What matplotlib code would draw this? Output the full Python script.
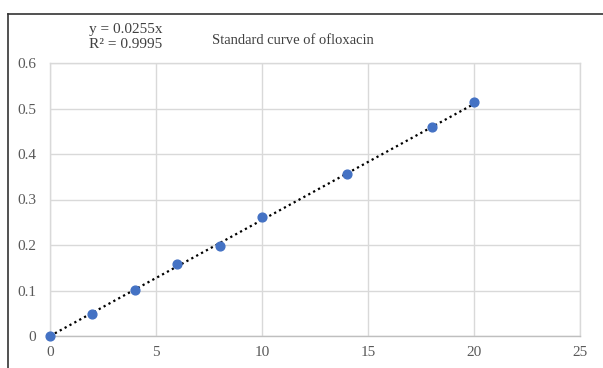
import numpy as np
import matplotlib
matplotlib.use("Agg")
import matplotlib.pyplot as plt
from matplotlib.lines import Line2D

# concentration vs absorbance
conc = [0, 2, 4, 6, 8, 10, 14, 18, 20]
absorb = [0, 0.048, 0.101, 0.158, 0.198, 0.262, 0.356, 0.459, 0.514]
slope = 0.0255
r2 = 0.9995
x_ticks = [0, 5, 10, 15, 20, 25]
y_ticks = [0, 0.1, 0.2, 0.3, 0.4, 0.5, 0.6]

plt.rcParams['font.family'] = ['Liberation Serif', 'DejaVu Serif']

fig = plt.figure(figsize=(6.03, 3.68), dpi=100)
W, H = 603, 368
ax = fig.add_axes([50 / W, (H - 336) / H, 530 / W, 273 / H])

grid_c = '#d9d9d9'
ax.set_xlim(0, 25)
ax.set_ylim(0, 0.6)
ax.set_xticks(x_ticks)
ax.set_yticks(y_ticks)
ax.set_xticklabels([str(t) for t in x_ticks])
ax.set_yticklabels(['0'] + [f'{t:.1f}' for t in y_ticks[1:]])
ax.grid(True, color=grid_c, linewidth=1)
ax.set_axisbelow(True)
for s in ax.spines.values():
    s.set_color(grid_c)
    s.set_linewidth(1)
ax.spines['bottom'].set_color('#bfbfbf')
ax.tick_params(length=0, labelsize=11, labelcolor='#595959')
ax.tick_params(axis='y', pad=10)
ax.tick_params(axis='x', pad=7)

# trendline through origin
xt = np.array([conc[0], conc[-1]])
ax.plot(xt, slope * xt, color='black', linestyle=(0, (1, 1.5)), linewidth=1.6, zorder=2)
ax.scatter(conc, absorb, s=40, color='#4472C4', zorder=3, clip_on=False)

fig.text(126 / W, 1 - 29 / H, f'y = {slope}x', ha='center', va='center', fontsize=11, color='#404040')
fig.text(126 / W, 1 - 45 / H, f'R² = {r2}', ha='center', va='center', fontsize=11, color='#404040')
fig.text(293 / W, 1 - 40 / H, 'Standard curve of ofloxacin', ha='center', va='center',
         fontsize=10.5, color='#404040')

# outer frame (top and left edges visible)
fig.add_artist(Line2D([8 / W, 1], [1 - 14 / H, 1 - 14 / H], transform=fig.transFigure,
                      color='#333333', linewidth=1.2))
fig.add_artist(Line2D([8 / W, 8 / W], [0, 1 - 14 / H], transform=fig.transFigure,
                      color='#333333', linewidth=1.2))

fig.savefig('out.png', dpi=100)
